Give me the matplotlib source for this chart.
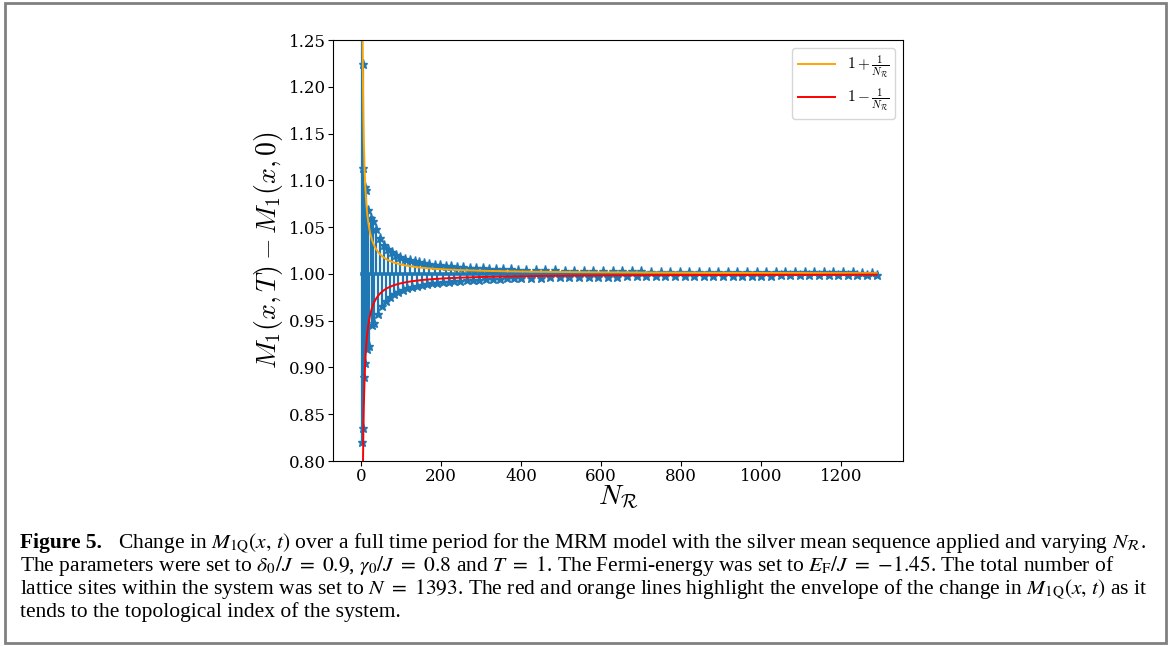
import matplotlib
matplotlib.use('Agg')
import matplotlib.pyplot as plt
import numpy as np
from matplotlib.patches import Rectangle

# N_R values and the change in M_1
n_r = [2, 3, 4, 5, 6, 7, 9, 11, 13, 15, 18, 21, 24, 27, 30, 33, 38, 43, 48, 53,
       58, 63, 68, 73, 78, 83, 88, 93, 98, 104, 110, 116, 122, 128, 134, 140,
       146, 152, 158, 164, 170, 177, 184, 191, 198, 205, 212, 219, 226, 233,
       240, 248, 256, 264, 272, 280, 288, 296, 304, 312, 320, 329, 338, 347,
       356, 365, 374, 383, 392, 401, 413, 425, 437, 449, 461, 473, 485, 497,
       509, 521, 533, 545, 557, 569, 581, 593, 605, 617, 629, 641, 653, 665,
       677, 689, 701, 713, 725, 737, 749, 761, 773, 785, 797, 809, 821, 833,
       845, 857, 869, 881, 893, 905, 917, 929, 941, 953, 965, 977, 989, 1001,
       1013, 1025, 1037, 1049, 1061, 1073, 1085, 1097, 1109, 1121, 1133, 1145,
       1157, 1169, 1181, 1193, 1205, 1217, 1229, 1241, 1253, 1265, 1277, 1289]
delta_m = [1.32, 0.82, 1.224, 0.835, 1.113, 0.89, 1.093, 0.905, 1.09, 0.92,
           1.068, 0.923, 1.06, 0.945, 1.056, 0.948, 1.048, 0.957, 1.038, 0.966,
           1.031, 0.971, 1.0265, 0.9753, 1.0231, 0.9783, 1.0205, 0.9806, 1.0184,
           0.9827, 1.0164, 0.9845, 1.0148, 0.9859, 1.0134, 0.9871, 1.0123, 0.9882,
           1.0114, 0.989, 1.0106, 0.9898, 1.0098, 0.9906, 1.0091, 0.9912, 1.0085,
           0.9918, 1.008, 0.9923, 1.0075, 0.9927, 1.007, 0.9932, 1.0066, 0.9936,
           1.0063, 0.9939, 1.0059, 0.9942, 1.0056, 0.9945, 1.0053, 0.9948, 1.0051,
           0.9951, 1.0048, 0.9953, 1.0046, 0.9955, 1.0044, 0.9958, 1.0041, 0.996,
           1.0039, 0.9962, 1.0037, 0.9964, 1.0035, 0.9965, 1.0034, 0.9967, 1.0032,
           0.9968, 1.0031, 0.997, 1.003, 0.9971, 1.0029, 0.9972, 1.0028, 0.9973,
           1.0027, 0.9974, 1.0026, 0.9975, 1.0025, 0.9976, 1.0024, 0.9976, 1.0023,
           0.9977, 1.0023, 0.9978, 1.0022, 0.9978, 1.0021, 0.9979, 1.0021, 0.998,
           1.002, 0.998, 1.002, 0.9981, 1.0019, 0.9981, 1.0019, 0.9982, 1.0018,
           0.9982, 1.0018, 0.9982, 1.0017, 0.9983, 1.0017, 0.9983, 1.0017, 0.9984,
           1.0016, 0.9984, 1.0016, 0.9984, 1.0016, 0.9985, 1.0015, 0.9985, 1.0015,
           0.9985, 1.0015, 0.9986, 1.0014, 0.9986, 1.0014, 0.9986]
# the value everything settles to (topological index)
index_value = 1.0

x_ticks = [0, 200, 400, 600, 800, 1000, 1200]
y_ticks = [0.80, 0.85, 0.90, 0.95, 1.00, 1.05, 1.10, 1.15, 1.20, 1.25]

caption_lines = [
    r'Change in $M_{1\mathrm{Q}}(x,\,t)$ over a full time period for the MRM model '
    r'with the silver mean sequence applied and varying $N_{\mathcal{R}}$.',
    r'The parameters were set to $\delta_0/J\ =\ 0.9$, $\gamma_0/J\ =\ 0.8$ and '
    r'$T\ =\ 1$. The Fermi-energy was set to $E_{\mathrm{F}}/J\ =\ {-}1.45$. '
    r'The total number of',
    r'lattice sites within the system was set to $N\ =\ 1393$. The red and orange '
    r'lines highlight the envelope of the change in $M_{1\mathrm{Q}}(x,\,t)$ as it',
    r'tends to the topological index of the system.',
]

W, H = 1172, 646
plt.rcParams['mathtext.fontset'] = 'cm'
plt.rcParams['font.family'] = 'DejaVu Serif'

fig = plt.figure(figsize=(W / 100, H / 100), dpi=100)
ax = fig.add_axes([333 / W, 1 - 461 / H, (903 - 333) / W, (461 - 40) / H])

n = np.array(n_r, dtype=float)
# swings away from the index drawn as bars with stars at the tips
ax.vlines(n, index_value, delta_m, color='C0', linewidth=1.6)
ax.plot(n, np.full(len(n), index_value), color='C0', linewidth=2.6)
ax.plot(n, delta_m, linestyle='none', color='C0', marker='*', markersize=6.5)
# envelopes from the legend: 1 +/- 1/N_R
ax.plot(n, 1 + 1 / n, color='orange', linewidth=1.4,
        label=r'$1+\frac{1}{N_{\mathcal{R}}}$')
ax.plot(n, 1 - 1 / n, color='red', linewidth=1.4,
        label=r'$1-\frac{1}{N_{\mathcal{R}}}$')

ax.set_xlim(-70, 1355)
ax.set_ylim(0.80, 1.25)
ax.set_xticks(x_ticks)
ax.set_yticks(y_ticks)
ax.tick_params(labelsize=12, pad=1.5)
ax.set_xlabel(r'$N_{\mathcal{R}}$', fontsize=20, labelpad=-1)
ax.set_ylabel(r'$M_1(x,T) - M_1(x,0)$', fontsize=20, labelpad=3)
ax.legend(loc='upper right', fontsize=11, handlelength=2.4, labelspacing=0.4)

# gray frame around figure and caption
fig.patches.append(Rectangle((5 / W, 3 / H), (1166 - 5) / W, (643 - 3) / H,
                             transform=fig.transFigure, fill=False,
                             edgecolor='#808080', linewidth=2))

# caption, sized so that the plain last line has the paper's width
cap_font = dict(family='Liberation Serif', math_fontfamily='stix',
                va='baseline', ha='left')
baselines = [548, 571, 594, 617]
x0 = 20 / W
probe = fig.text(x0, 0.5, caption_lines[3], fontsize=13, **cap_font)
fig.canvas.draw()
size = 13 * (398 - 20) / probe.get_window_extent().width
probe.remove()

fig.text(x0, 1 - baselines[0] / H, 'Figure 5.', fontweight='bold',
         fontsize=size, **cap_font)
fig.text(118 / W, 1 - baselines[0] / H, caption_lines[0], fontsize=size, **cap_font)
for line, yb in zip(caption_lines[1:], baselines[1:]):
    fig.text(x0, 1 - yb / H, line, fontsize=size, **cap_font)

fig.savefig('out.png', dpi=100)
